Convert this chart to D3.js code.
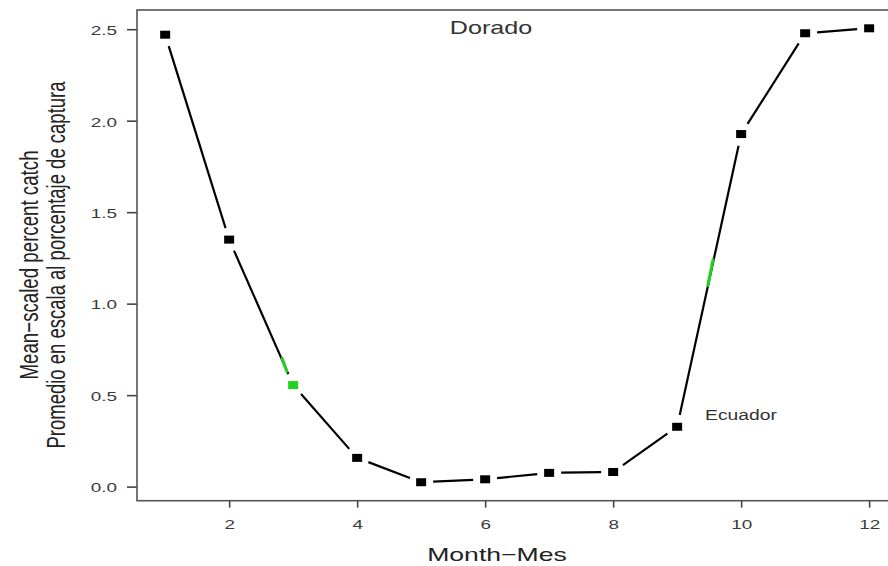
<!DOCTYPE html>
<html lang="en">
<head>
<meta charset="UTF-8">
<title>Dorado - mean-scaled percent catch</title>
<style>
    body { margin: 0; background: #fff; }
    svg { display: block; font-family: "Liberation Sans", Arial, sans-serif; }
    .box { fill: none; stroke: #555; stroke-width: 1.6px; }
    .link { stroke: #000; stroke-width: 2.2px; }
    .green { stroke: #1fd21f; stroke-width: 3px; stroke-linecap: round; }
    .axis path { display: none; }
    .axis line { stroke: #444; stroke-width: 1.6px; }
    .axis text { fill: #3a3a3a; font-size: 13.5px; }
</style>
</head>
<body>
<svg class="chart" width="888" height="566"></svg>
<script src="https://d3js.org/d3.v7.min.js"></script>
<script>
// data
const months = [1, 2, 3, 4, 5, 6, 7, 8, 9, 10, 11, 12];
const catchValues = [2.47, 1.35, 0.555, 0.157, 0.024, 0.04, 0.075, 0.08, 0.327, 1.927, 2.478, 2.505];
const xTicks = [2, 4, 6, 8, 10, 12];
const yTicks = [0.0, 0.5, 1.0, 1.5, 2.0, 2.5];
const greenMonths = [3];               // marker drawn green
const greenStrokes = [                 // green traces over the line
    [[2.83, 0.70], [2.9, 0.63]],
    [[9.48, 1.10], [9.56, 1.24]]
];

const svg = d3.select('.chart');
const stretch = 1.4;  // the original picture is stretched sideways

const x = d3.scaleLinear().domain([0.56, 12.44]).range([137, 897.3]);
const y = d3.scaleLinear().domain([-0.077, 2.605]).range([500.7, 10]);

svg.append('rect').attr('width', 888).attr('height', 566).attr('fill', '#fff');

// axes
const yAxis = svg.append('g')
    .attr('class', 'axis')
    .attr('transform', 'translate(137,0)')
    .call(d3.axisLeft(y).tickValues(yTicks).tickSize(10).tickFormat(d3.format('.1f')));
yAxis.selectAll('text')
    .attr('x', null)
    .attr('transform', 'translate(-20,1) scale(' + stretch + ',1)');

const xAxis = svg.append('g')
    .attr('class', 'axis')
    .attr('transform', 'translate(0,500.7)')
    .call(d3.axisBottom(x).tickValues(xTicks).tickSize(7).tickFormat(d3.format('d')));
xAxis.selectAll('text')
    .attr('y', null)
    .attr('dy', null)
    .attr('transform', 'translate(0,28) scale(' + stretch + ',1)');

svg.append('rect')
    .attr('class', 'box')
    .attr('x', 137).attr('y', 10)
    .attr('width', 897.3 - 137).attr('height', 500.7 - 10);

// line segments with gaps round the points (type "b")
const pts = months.map((m, i) => ({x: x(m), y: y(catchValues[i])}));
const gap = 12;
const segs = d3.pairs(pts).map(([a, b]) => {
    const dx = b.x - a.x, dy = b.y - a.y;
    const len = Math.hypot(dx, dy);
    const ux = dx / len, uy = dy / len;
    return {x1: a.x + ux * gap, y1: a.y + uy * gap, x2: b.x - ux * gap, y2: b.y - uy * gap};
});

svg.append('g')
    .selectAll('line')
    .data(segs)
    .enter().append('line')
    .attr('class', 'link')
    .attr('x1', d => d.x1).attr('y1', d => d.y1)
    .attr('x2', d => d.x2).attr('y2', d => d.y2);

svg.append('g')
    .selectAll('line')
    .data(greenStrokes)
    .enter().append('line')
    .attr('class', 'green')
    .attr('x1', d => x(d[0][0])).attr('y1', d => y(d[0][1]))
    .attr('x2', d => x(d[1][0])).attr('y2', d => y(d[1][1]));

svg.append('g')
    .selectAll('rect')
    .data(months)
    .enter().append('rect')
    .attr('x', d => x(d) - 5)
    .attr('y', (d, i) => y(catchValues[i]) - 4)
    .attr('width', 10)
    .attr('height', 8)
    .attr('fill', d => greenMonths.includes(d) ? '#1fd21f' : '#000');

// texts
function label(str, px, py, size, color, rotate) {
    svg.append('text')
        .attr('transform', 'translate(' + px + ',' + py + ') scale(' + stretch + ',1)' + (rotate ? ' rotate(-90)' : ''))
        .attr('text-anchor', 'middle')
        .attr('font-size', size)
        .attr('fill', color)
        .text(str);
}

label('Dorado', 491, 34, 18, '#333');
label('Ecuador', 741, 420, 13.8, '#333');
label('Month\u2212Mes', 497, 561, 19, '#222');
label('Mean\u2212scaled percent catch', 38, 265, 18.7, '#222', true);
label('Promedio en escala al porcentaje de captura', 65, 265, 18.5, '#222', true);
</script>
</body>
</html>
